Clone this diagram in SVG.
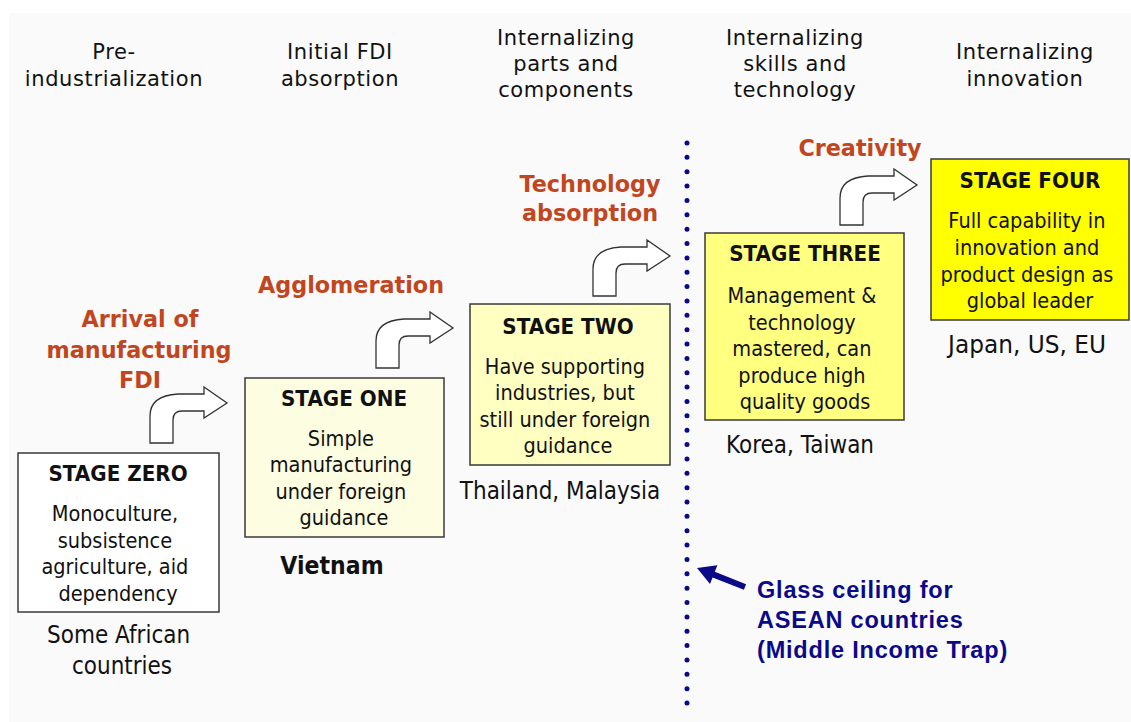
<svg xmlns="http://www.w3.org/2000/svg" width="1131" height="722" viewBox="0 0 1131 722">
<style>
.hd{font-family:"DejaVu Sans",Verdana,sans-serif;font-size:21px;letter-spacing:0.6px;fill:#111;text-anchor:middle}
.ttl{font-family:"DejaVu Sans",Verdana,sans-serif;font-size:21px;font-weight:bold;fill:#111;text-anchor:middle}
.body{font-family:"DejaVu Sans",Verdana,sans-serif;font-size:22px;fill:#111;text-anchor:middle}
.ctry{font-family:"DejaVu Sans",Verdana,sans-serif;font-size:24.5px;fill:#111;text-anchor:middle}
.org{font-family:"DejaVu Sans",Verdana,sans-serif;font-size:22.3px;font-weight:bold;fill:#c1461f;text-anchor:middle}
.blue{font-family:"Liberation Sans",Arial,sans-serif;font-size:23.5px;font-weight:bold;letter-spacing:0.8px;fill:#0a0a88}
.box{stroke:#3a3a3a;stroke-width:1.5}
.bend{fill:#ffffff;stroke:#333;stroke-width:1.3;stroke-linejoin:miter}
</style>
<defs>
<path id="bent" d="M150,443 L150,416 C150,402 160,395 178,394 L204,394 L204,387 L227,403 L204,418 L204,411 L182,411 C176,411 173,414 173,420 L173,443 Z"/>
</defs>
<rect x="0" y="0" width="1131" height="722" fill="#ffffff"/>
<rect x="9" y="13" width="1122" height="709" fill="#fafafa"/>

<g id="headers">
<text class="hd" x="114" y="59">Pre-</text>
<text class="hd" x="114" y="86">industrialization</text>
<text class="hd" x="340" y="59">Initial FDI</text>
<text class="hd" x="340" y="86">absorption</text>
<text class="hd" x="566" y="45">Internalizing</text>
<text class="hd" x="566" y="71">parts and</text>
<text class="hd" x="566" y="97">components</text>
<text class="hd" x="795" y="45">Internalizing</text>
<text class="hd" x="795" y="71">skills and</text>
<text class="hd" x="795" y="97">technology</text>
<text class="hd" x="1025" y="59">Internalizing</text>
<text class="hd" x="1025" y="86">innovation</text>
</g>

<g id="connectors">
<use href="#bent" class="bend"/>
<use href="#bent" class="bend" transform="translate(226,-75)"/>
<use href="#bent" class="bend" transform="translate(443,-147)"/>
<use href="#bent" class="bend" transform="translate(690,-218)"/>
<line x1="687" y1="143" x2="687" y2="704" stroke="#0a0a88" stroke-width="5" stroke-linecap="round" stroke-dasharray="0 14.36"/>
<polygon points="697,568 717.4,565.3 714.8,571.8 746.1,584.2 743.9,589.8 712.6,577.4 710,583.9" fill="#0a0a88"/>
</g>

<g id="label-arrival">
<text class="org" x="140" y="327">Arrival of</text>
<text class="org" x="139" y="358">manufacturing</text>
<text class="org" x="140" y="388">FDI</text>
</g>
<g id="label-agglomeration"><text class="org" x="351" y="293">Agglomeration</text></g>
<g id="label-technology">
<text class="org" x="590" y="192">Technology</text>
<text class="org" x="590" y="221">absorption</text>
</g>
<g id="label-creativity"><text class="org" x="860" y="156">Creativity</text></g>

<g id="stage-zero">
<rect class="box" x="18" y="453" width="201" height="159" fill="#ffffff"/>
<text class="ttl" transform="translate(118 481) scale(0.95 1)" x="0" y="0">STAGE ZERO</text>
<text class="body" transform="translate(118 0) scale(0.88 1)">
<tspan x="0" y="521">Monoculture,</tspan>
<tspan x="0" y="548">subsistence</tspan>
<tspan x="0" y="574">agriculture, aid</tspan>
<tspan x="0" y="601">dependency</tspan>
</text>
<text class="ctry" transform="translate(122 0) scale(0.88 1)">
<tspan x="0" y="643">Some African</tspan>
<tspan x="0" y="674">countries</tspan>
</text>
</g>

<g id="stage-one">
<rect class="box" x="245" y="378" width="199" height="159" fill="#fdfde2"/>
<text class="ttl" transform="translate(344 406) scale(0.95 1)" x="0" y="0">STAGE ONE</text>
<text class="body" transform="translate(344 0) scale(0.88 1)">
<tspan x="0" y="446">Simple</tspan>
<tspan x="0" y="472">manufacturing</tspan>
<tspan x="0" y="499">under foreign</tspan>
<tspan x="0" y="525">guidance</tspan>
</text>
<text class="ttl" style="font-size:24px" transform="translate(332 574) scale(0.92 1)" x="0" y="0">Vietnam</text>
</g>

<g id="stage-two">
<rect class="box" x="470" y="304" width="200" height="161" fill="#ffffc2"/>
<text class="ttl" transform="translate(568 334) scale(0.95 1)" x="0" y="0">STAGE TWO</text>
<text class="body" transform="translate(568 0) scale(0.88 1)">
<tspan x="0" y="374">Have supporting</tspan>
<tspan x="0" y="400">industries, but</tspan>
<tspan x="0" y="427">still under foreign</tspan>
<tspan x="0" y="453">guidance</tspan>
</text>
<text class="ctry" transform="translate(560 499) scale(0.88 1)" x="0" y="0">Thailand, Malaysia</text>
</g>

<g id="stage-three">
<rect class="box" x="705" y="233" width="199" height="187" fill="#ffff80"/>
<text class="ttl" transform="translate(805 261) scale(0.95 1)" x="0" y="0">STAGE THREE</text>
<text class="body" transform="translate(805 0) scale(0.88 1)">
<tspan x="0" y="303">Management &amp;</tspan>
<tspan x="0" y="330">technology</tspan>
<tspan x="0" y="356">mastered, can</tspan>
<tspan x="0" y="383">produce high</tspan>
<tspan x="0" y="409">quality goods</tspan>
</text>
<text class="ctry" transform="translate(800 453) scale(0.88 1)" x="0" y="0">Korea, Taiwan</text>
</g>

<g id="stage-four">
<rect class="box" x="931" y="159" width="198" height="161" fill="#ffff00"/>
<text class="ttl" transform="translate(1030 188) scale(0.95 1)" x="0" y="0">STAGE FOUR</text>
<text class="body" transform="translate(1030 0) scale(0.88 1)">
<tspan x="0" y="228">Full capability in</tspan>
<tspan x="0" y="255">innovation and</tspan>
<tspan x="0" y="282">product design as</tspan>
<tspan x="0" y="308">global leader</tspan>
</text>
<text class="ctry" transform="translate(1027 353) scale(0.95 1)" x="0" y="0">Japan, US, EU</text>
</g>

<g id="glass-ceiling">
<text class="blue" x="757" y="598">Glass ceiling for</text>
<text class="blue" x="757" y="628">ASEAN countries</text>
<text class="blue" x="757" y="658">(Middle Income Trap)</text>
</g>
</svg>
